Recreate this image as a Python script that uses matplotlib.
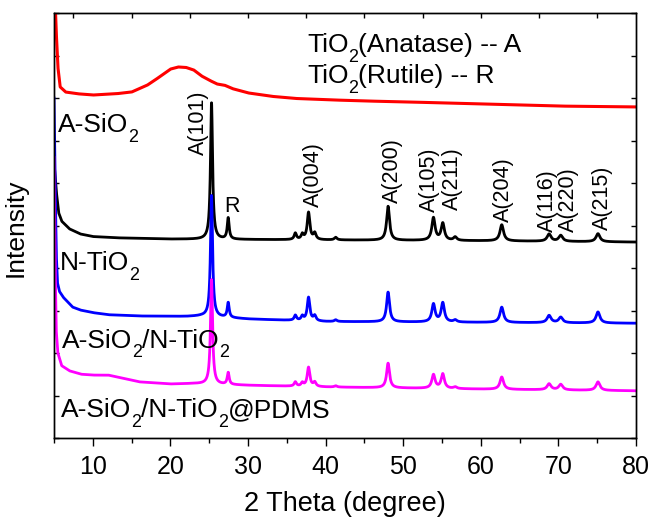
import numpy as np
import matplotlib
matplotlib.use("Agg")
import matplotlib.pyplot as plt
from matplotlib.ticker import MultipleLocator

plt.rcParams['font.family'] = ['Liberation Sans', 'DejaVu Sans']

# anatase / rutile reflections (2 theta)
peak_pos = [25.3, 27.45, 36.1, 37.0, 37.8, 38.6, 41.3, 48.05, 53.9, 55.1, 56.7, 62.7, 68.8, 70.3, 75.1]
peak_fwhm = [0.32, 0.3, 0.35, 0.35, 0.4, 0.4, 0.4, 0.45, 0.5, 0.5, 0.5, 0.55, 0.6, 0.6, 0.6]

# background points (2 theta, stacked intensity) for every pattern
red_bx = [5.0, 5.26, 5.5, 5.8, 6.5, 8, 10, 13, 15, 17, 18, 19, 20, 21, 22, 23, 24, 25, 26, 27, 28, 30, 33, 36, 40, 45, 50, 60, 70, 80]
red_by = [11.0, 9.67, 8.73, 8.26, 8.14, 8.10, 8.07, 8.10, 8.14, 8.30, 8.42, 8.55, 8.68, 8.73, 8.72, 8.66, 8.52, 8.42, 8.33, 8.30, 8.22, 8.12, 8.04, 7.99, 7.96, 7.93, 7.91, 7.86, 7.81, 7.79]

black_bx = [5.0, 5.3, 5.6, 6.0, 7.0, 8.4, 10, 13, 20, 30, 40, 60, 80]
black_by = [6.5, 5.8, 5.3, 5.1, 4.92, 4.80, 4.74, 4.71, 4.68, 4.67, 4.66, 4.64, 4.61]

blue_bx = [5.0, 5.15, 5.3, 5.45, 5.7, 6.2, 7.4, 8.4, 10, 12, 16, 22, 24, 30, 40, 60, 80]
blue_by = [8.0, 6.0, 4.3, 3.65, 3.45, 3.31, 3.08, 3.01, 2.95, 2.90, 2.87, 2.86, 2.87, 2.80, 2.74, 2.72, 2.70]

mag_bx = [5.0, 5.15, 5.3, 5.5, 6.0, 7, 8.5, 10, 12, 14, 16, 20, 23, 30, 40, 60, 80]
mag_by = [6.6, 4.0, 2.5, 2.0, 1.7, 1.58, 1.50, 1.48, 1.48, 1.40, 1.32, 1.27, 1.28, 1.24, 1.20, 1.15, 1.11]

# peak heights above background
red_h = [0, 0, 0, 0, 0, 0, 0, 0, 0, 0, 0, 0, 0, 0, 0]
black_h = [3.21, 0.50, 0.15, 0.12, 0.64, 0.15, 0.06, 0.80, 0.53, 0.40, 0.08, 0.38, 0.17, 0.14, 0.19]
blue_h = [2.85, 0.35, 0.12, 0.10, 0.55, 0.12, 0.04, 0.70, 0.42, 0.45, 0.05, 0.36, 0.17, 0.13, 0.26]
mag_h = [2.46, 0.28, 0.10, 0.08, 0.45, 0.10, 0.03, 0.58, 0.32, 0.34, 0.04, 0.29, 0.14, 0.13, 0.20]

# sample names, "_" marks the subscript pieces
names = [["A-SiO", "_2"],
         ["N-TiO", "_2"],
         ["A-SiO", "_2", "/N-TiO", "_2"],
         ["A-SiO", "_2", "/N-TiO", "_2", "@PDMS"]]
name_x = [5.5, 5.77, 6.03, 5.9]
name_y = [7.2, 3.95, 2.12, 0.49]

phase_notes = [["TiO", "_2", "(Anatase) -- A"],
               ["TiO", "_2", "(Rutile) -- R"]]
note_x = [37.6, 37.6]
note_y = [9.08, 8.35]

hkl = ["A(101)", "R", "A(004)", "A(200)", "A(105)", "A(211)", "A(204)", "A(116)", "A(220)", "A(215)"]
hkl_x = [23.6, 27.9, 38.4, 48.6, 53.4, 56.3, 62.9, 68.6, 71.3, 75.7]
hkl_y = [6.66, 5.44, 5.44, 5.53, 5.32, 5.36, 5.08, 4.85, 4.85, 4.89]

tt = np.arange(5, 80.001, 0.02)


def pattern(bx, by, heights):
    y = np.interp(tt, bx, by)
    for c, w, h in zip(peak_pos, peak_fwhm, heights):
        y = y + h / (1 + ((tt - c) / (w / 2)) ** 2)
    return y


fig = plt.figure(figsize=(6.52, 5.18), dpi=100)
ax = fig.add_axes([54 / 652, 80 / 518, 582 / 652, 425 / 518])
renderer = fig.canvas.get_renderer()


def sub_text(x, y, parts, size=19):
    # write text piece by piece, with Origin-like low subscripts
    px, py = ax.transData.transform((x, y))
    for p in parts:
        if p.startswith("_"):
            s, fs, dy = p[1:], size * 0.68, -9.5
        else:
            s, fs, dy = p, size, 0
        t = fig.text(px, py + dy, s, fontsize=fs, ha="left", va="baseline",
                     transform=None)
        bb = t.get_window_extent(renderer)
        px = bb.x1


ax.plot(tt, pattern(red_bx, red_by, red_h), color="#ff0000", lw=2.2)
ax.plot(tt, pattern(black_bx, black_by, black_h), color="black", lw=2.0)
ax.plot(tt, pattern(blue_bx, blue_by, blue_h), color="#0000ff", lw=2.0)
ax.plot(tt, pattern(mag_bx, mag_by, mag_h), color="#ff00ff", lw=2.0)

ax.set_xlim(5, 80)
ax.set_ylim(0, 10)

for parts, x, y in zip(names, name_x, name_y):
    sub_text(x, y, parts)
for parts, x, y in zip(phase_notes, note_x, note_y):
    sub_text(x, y, parts)

for s, x, y in zip(hkl, hkl_x, hkl_y):
    if s == "R":
        ax.text(x, y, s, fontsize=15.5, ha="center", va="center")
    else:
        ax.text(x, y, s, fontsize=15.5, rotation=90, ha="center", va="bottom")

ax.xaxis.set_major_locator(MultipleLocator(10))
ax.xaxis.set_minor_locator(MultipleLocator(5))
ax.yaxis.set_major_locator(MultipleLocator(1))
ax.set_yticklabels([])
ax.tick_params(axis="x", which="major", direction="out", length=6, width=1, labelsize=18, pad=6)
ax.tick_params(axis="x", which="minor", direction="out", length=3.5, width=1)
ax.tick_params(axis="y", which="major", direction="in", length=3.5, width=1, left=True, right=True)

top = ax.twiny()
top.set_xlim(5, 80)
top.xaxis.set_major_locator(MultipleLocator(7.5))
top.tick_params(axis="x", direction="in", length=3.5, width=1, labeltop=False)

for a in (ax, top):
    for sp in a.spines.values():
        sp.set_linewidth(1.0)

ax.set_xlabel("2 Theta (degree)", fontsize=19.5)
ax.xaxis.set_label_coords(0.5, -0.125)
ax.set_ylabel("Intensity", fontsize=19)
ax.yaxis.set_label_coords(-0.045, 0.494)

fig.savefig("out.png", dpi=100)
